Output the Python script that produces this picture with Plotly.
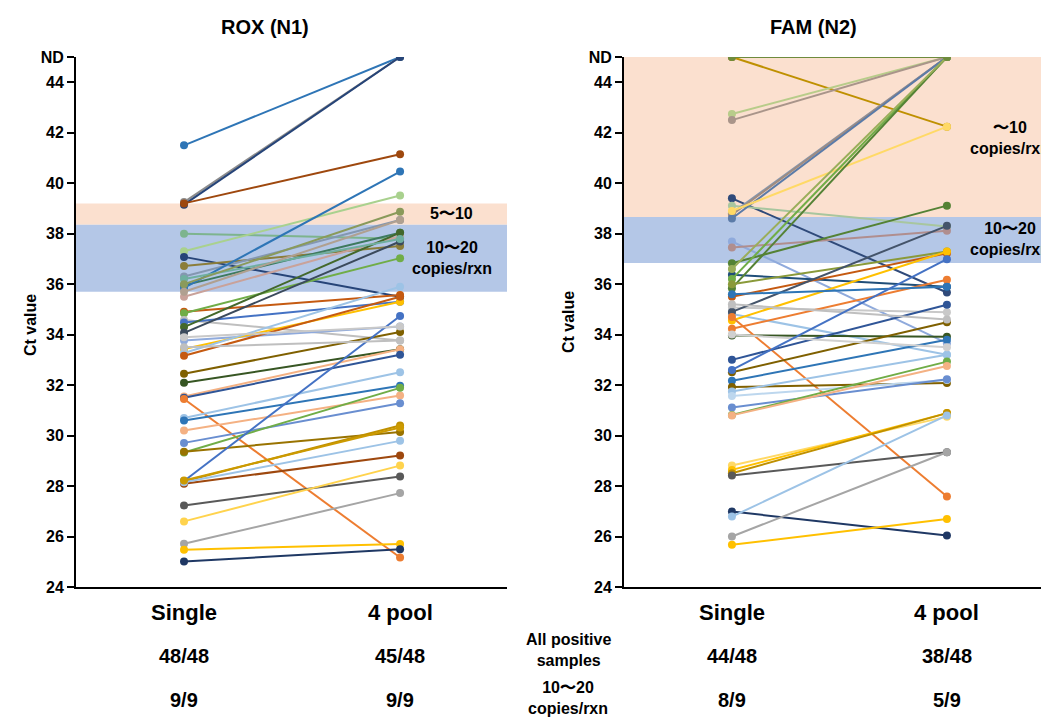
import plotly.graph_objects as go

ND = 45
categories = ["Single", "4 pool"]

# ROX (N1): Ct value for each sample, single vs 4-pool
rox_single = [41.5, 39.25, 39.15, 39.2, 38.0, 37.3, 37.08, 36.72, 36.3, 35.95,
              35.85, 35.5, 34.91, 34.85, 34.58, 34.48, 34.3, 34.07, 33.77, 33.43,
              33.27, 33.16, 32.45, 32.09, 31.55, 31.5, 31.45, 30.7, 30.6, 30.2,
              29.71, 29.33, 29.36, 28.18, 28.2, 28.09, 28.15, 28.22, 27.23, 26.6,
              25.71, 25.48, 25.01, 36.2, 36.0, 35.7, 33.9, 33.5]
rox_pool = [45, 45, 45, 41.15, 37.8, 39.51, 35.5, 37.51, 38.54, 38.04,
            40.46, 37.9, 35.57, 37.03, 33.77, 35.3, 38.04, 37.69, 34.32, 35.3,
            35.9, 35.5, 34.1, 33.42, 33.42, 33.2, 25.17, 32.51, 31.97, 31.59,
            31.28, 31.89, 30.14, 30.4, 34.74, 29.21, 29.79, 30.32, 28.38, 28.81,
            27.72, 25.7, 25.5, 37.79, 38.87, 38.54, 34.32, 33.77]
rox_colors = ["#2E75B6", "#8C8C8C", "#264478", "#9E480E", "#7DB48E", "#A9D18E", "#264478", "#8B7D3A", "#8497B0", "#3E7A5E",
              "#2E75B6", "#C9A29A", "#C55A11", "#70AD47", "#BFBFBF", "#4472C4", "#43682B", "#3B4A5C", "#8FAADC", "#FFC000",
              "#9DC3E6", "#C55A11", "#7F6000", "#375623", "#F4B183", "#2F5597", "#ED7D31", "#9DC3E6", "#2E75B6", "#F4B183",
              "#698ED0", "#70AD47", "#997300", "#BF9000", "#4472C4", "#9E480E", "#9DC3E6", "#CC9A00", "#595959", "#FFD34D",
              "#A5A5A5", "#FFC000", "#1F3864", "#6FAFA0", "#8A9A5B", "#B0A090", "#C9C9C9", "#BFBFBF"]

# FAM (N2)
fam_single = [45, 45, 42.74, 42.5, 39.4, 39.11, 38.81, 38.75, 38.6, 38.9,
              37.69, 37.45, 36.83, 36.37, 36.2, 35.84, 36.0, 36.6, 35.5, 35.07,
              34.82, 34.56, 34.23, 33.97, 34.9, 34.7, 33.0, 32.51, 32.17, 31.92,
              31.75, 31.57, 31.11, 30.82, 30.8, 28.81, 28.64, 28.51, 28.42, 26.99,
              26.79, 26.0, 25.67, 45, 35.6, 35.2, 34.0, 32.6]
fam_pool = [45, 42.24, 45, 45, 35.67, 38.28, 45, 45, 45, 42.24,
            33.66, 38.12, 39.11, 35.9, 45, 45, 37.29, 45, 37.22, 34.89,
            33.2, 37.29, 36.17, 33.92, 38.31, 27.59, 35.18, 34.49, 33.8, 32.08,
            33.2, 32.2, 32.23, 32.93, 32.76, 30.75, 30.89, 30.89, 29.34, 26.04,
            30.8, 29.34, 26.69, 45, 35.9, 34.6, 33.5, 36.99]
fam_colors = ["#44546A", "#BF9000", "#B8CC8A", "#A9958A", "#2F4A7A", "#A8C69F", "#8497B0", "#A08C80", "#5B7BA8", "#FFD966",
              "#8FAADC", "#B08E8E", "#548235", "#1F4E79", "#70AD47", "#548235", "#8A9A3A", "#9AAE5A", "#C55A11", "#C9C9C9",
              "#9DC3E6", "#FFC000", "#ED7D31", "#375623", "#44546A", "#ED7D31", "#2F5597", "#7F6000", "#2E75B6", "#806000",
              "#9DC3E6", "#BDD7EE", "#698ED0", "#70AD47", "#F4B183", "#FFD966", "#FFC000", "#BF9000", "#595959", "#1F3864",
              "#9DC3E6", "#A5A5A5", "#FFC000", "#6E8B3D", "#2E75B6", "#BFBFBF", "#D0D0D0", "#4472C4"]

rox_bands = [(38.35, 39.2, "#FBE0CF"), (35.7, 38.35, "#B4C7E7")]
fam_bands = [(38.66, 45, "#FBE0CF"), (36.84, 38.66, "#B4C7E7")]

tick_vals = [24, 26, 28, 30, 32, 34, 36, 38, 40, 42, 44, 45]
tick_text = ["24", "26", "28", "30", "32", "34", "36", "38", "40", "42", "44", "ND"]

counts_all = {"x": ["48/48", "45/48"], "x2": ["44/48", "38/48"]}
counts_low = {"x": ["9/9", "9/9"], "x2": ["8/9", "5/9"]}

FONT = "Liberation Sans, Arial, sans-serif"
W, H = 1049, 722
OFF = 8  # page body margin
ML, MT, MR, MB = 68, 49, 0, 143
PW, PH = W - ML - MR, H - MT - MB

fig = go.Figure()

def add_panel(single, pool, colors, xa, ya):
    for s, p, c in zip(single, pool, colors):
        fig.add_trace(go.Scatter(
            x=[0, 1], y=[s, p], mode="lines+markers",
            line=dict(color=c, width=2), marker=dict(color=c, size=8),
            xaxis=xa, yaxis=ya, showlegend=False, hoverinfo="y"))

add_panel(rox_single, rox_pool, rox_colors, "x", "y")
add_panel(fam_single, fam_pool, fam_colors, "x2", "y2")

def px_x(px):
    return (px - OFF - ML) / PW

def px_y(py):
    return (H - MB - (py - OFF)) / PH

for (lo, hi, col) in rox_bands:
    fig.add_shape(type="rect", xref="x domain", yref="y", x0=0, x1=1, y0=lo, y1=hi,
                  fillcolor=col, line_width=0, layer="below")
for (lo, hi, col) in fam_bands:
    fig.add_shape(type="rect", xref="x2 domain", yref="y2", x0=0, x1=1, y0=lo, y1=hi,
                  fillcolor=col, line_width=0, layer="below")

axis_common = dict(showgrid=False, zeroline=False, showline=True, linecolor="black", linewidth=2)
ytick = dict(range=[24, 45], tickvals=tick_vals, ticktext=tick_text, ticks="outside",
             ticklen=7, tickwidth=2, tickcolor="black",
             tickfont=dict(size=16, family=FONT, weight="bold"), **axis_common)
fig.update_layout(
    width=W, height=H, margin=dict(l=ML, r=MR, t=MT, b=MB, pad=0, autoexpand=False),
    plot_bgcolor="white", paper_bgcolor="white",
    font=dict(family=FONT, color="black"),
    xaxis=dict(domain=[0, px_x(507)], range=[-0.5, 1.495], showticklabels=False, ticks="", **axis_common),
    xaxis2=dict(domain=[px_x(624), 1.0], range=[-0.502, 1.512], showticklabels=False, ticks="", **axis_common),
    yaxis=dict(domain=[0, 1], anchor="x", **ytick),
    yaxis2=dict(domain=[0, 1], anchor="x2", **ytick),
)

ann = []
def A(text, x, y, xref, yref, size, **kw):
    ann.append(dict(text=text, x=x, y=y, xref=xref, yref=yref, showarrow=False,
                    font=dict(size=size, family=FONT, color="black", weight="bold"),
                    xanchor="center", yanchor="middle", **kw))

A("ROX (N1)", px_x(265), px_y(27), "paper", "paper", 20)
A("FAM (N2)", px_x(813), px_y(27), "paper", "paper", 20)
A("Ct value", px_x(30), px_y(325), "paper", "paper", 16, textangle=-90)
A("Ct value", px_x(568), px_y(322), "paper", "paper", 16, textangle=-90)

for xa in ["x", "x2"]:
    for i, cat in enumerate(categories):
        A(cat, i, px_y(612), xa, "paper", 22)
        A(counts_all[xa][i], i, px_y(656), xa, "paper", 20)
        A(counts_low[xa][i], i, px_y(700), xa, "paper", 20)

A("All positive<br>samples", px_x(568), px_y(650), "paper", "paper", 16)
A("10〜20<br>copies/rxn", px_x(568), px_y(698), "paper", "paper", 16)

A("5〜10", 1.24, 38.78, "x", "y", 16)
A("10〜20<br>copies/rxn", 1.24, 37.05, "x", "y", 16)
A("〜10<br>copies/rxn", 1.295, 41.8, "x2", "y2", 16)
A("10〜20<br>copies/rxn", 1.295, 37.78, "x2", "y2", 16)

fig.update_layout(annotations=ann)
fig.write_html("out.html")
